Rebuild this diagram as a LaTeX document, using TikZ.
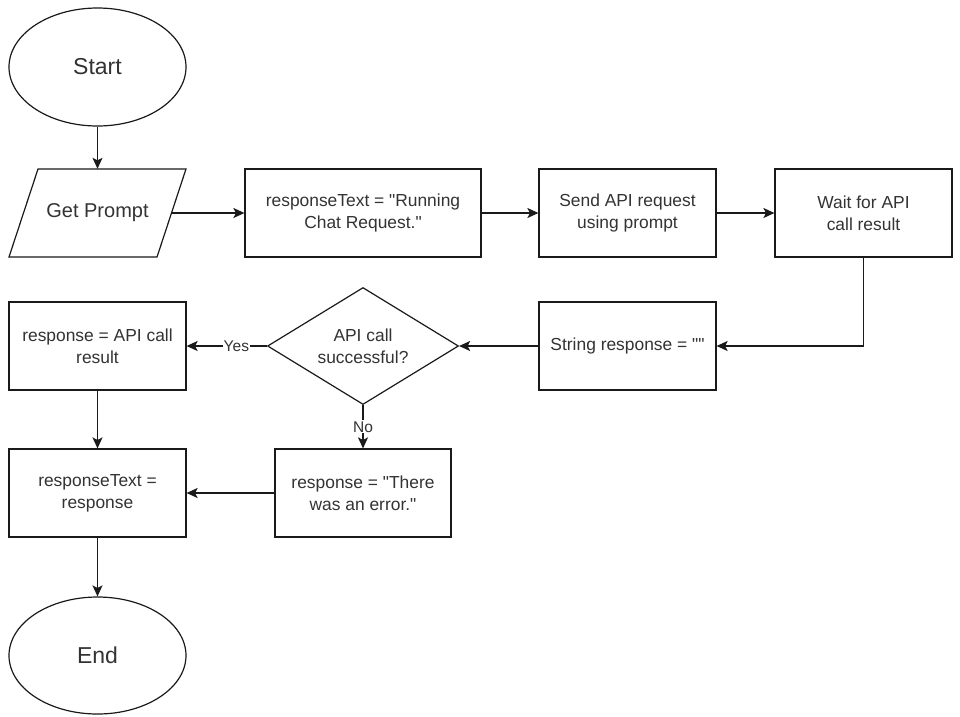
\documentclass[tikz,border=0pt]{standalone}
\usepackage{fontspec}
\setmainfont{Liberation Sans}[Ligatures=TeXOff]
\usetikzlibrary{shapes.geometric,arrows.meta}
\definecolor{txt}{HTML}{333333}
\definecolor{ln}{HTML}{1A1A1A}
\tikzset{
  every node/.style={text=txt, align=center, inner sep=0pt},
  boxtxt/.style={font=\fontsize{17.4}{21.7}\selectfont},
  bigtxt/.style={font=\fontsize{23}{28}\selectfont},
  lbltxt/.style={font=\fontsize{15.5}{18}\selectfont, fill=white, inner sep=1pt},
  procbox/.style={boxtxt, draw=ln, line width=1.2pt, rectangle, minimum width=177pt, minimum height=88pt},
  term/.style={bigtxt, draw=ln, line width=1.2pt, ellipse, minimum width=177pt, minimum height=118pt},
  decis/.style={boxtxt, draw=ln, line width=1.2pt, diamond, aspect=1.63, minimum width=191pt, minimum height=117pt},
  shapeline/.style={draw=ln, line width=1.2pt, line join=miter},
  arr/.style={draw=ln, line width=1.2pt, -{Stealth[length=11pt,width=10pt,inset=2.5pt]}}
}
\begin{document}
\begin{tikzpicture}[x=1pt,y=-1pt]
\useasboundingbox (0,0) rectangle (960,716);
\fill[white] (0,0) rectangle (960,716);

\node[term] (start) at (97.5,67) {Start};

\draw[shapeline] (38,169) -- (186,169) -- (157,257) -- (9,257) -- cycle;
\node[bigtxt, font=\fontsize{20}{24}\selectfont, minimum width=148pt, minimum height=88pt] (getp) at (97.5,213) {Get Prompt};

\node[procbox, minimum width=236pt] (rt1) at (363,213) {responseText = "Running\\Chat Request."};
\node[procbox] (send) at (627.5,213) {Send API request\\using prompt};
\node[procbox] (wait) at (863.5,213) {Wait for API\\call result};
\node[procbox] (strr) at (627.5,346) {String response = ""};
\node[decis] (dec) at (363,346) {API call\\successful?};
\node[procbox] (res) at (97.5,346) {response = API call\\result};
\node[procbox] (rt2) at (97.5,493) {responseText =\\response};
\node[procbox, minimum width=176pt] (err) at (363,493) {response = "There\\was an error."};
\node[term, minimum height=117pt] (endn) at (97.5,655.5) {End};

\draw[arr] (start.south) -- (getp.north);
\draw[arr] (getp.east) -- (rt1.west);
\draw[arr] (rt1.east) -- (send.west);
\draw[arr] (send.east) -- (wait.west);
\draw[arr] (wait.south) |- (strr.east);
\draw[arr] (strr.west) -- (dec.east);
\draw[arr] (dec.west) -- node[lbltxt, pos=0.38] {Yes} (res.east);
\draw[arr] (dec.south) -- node[lbltxt, pos=0.5] {No} (err.north);
\draw[arr] (err.west) -- (rt2.east);
\draw[arr] (res.south) -- (rt2.north);
\draw[arr] (rt2.south) -- (endn.north);
\end{tikzpicture}
\end{document}
